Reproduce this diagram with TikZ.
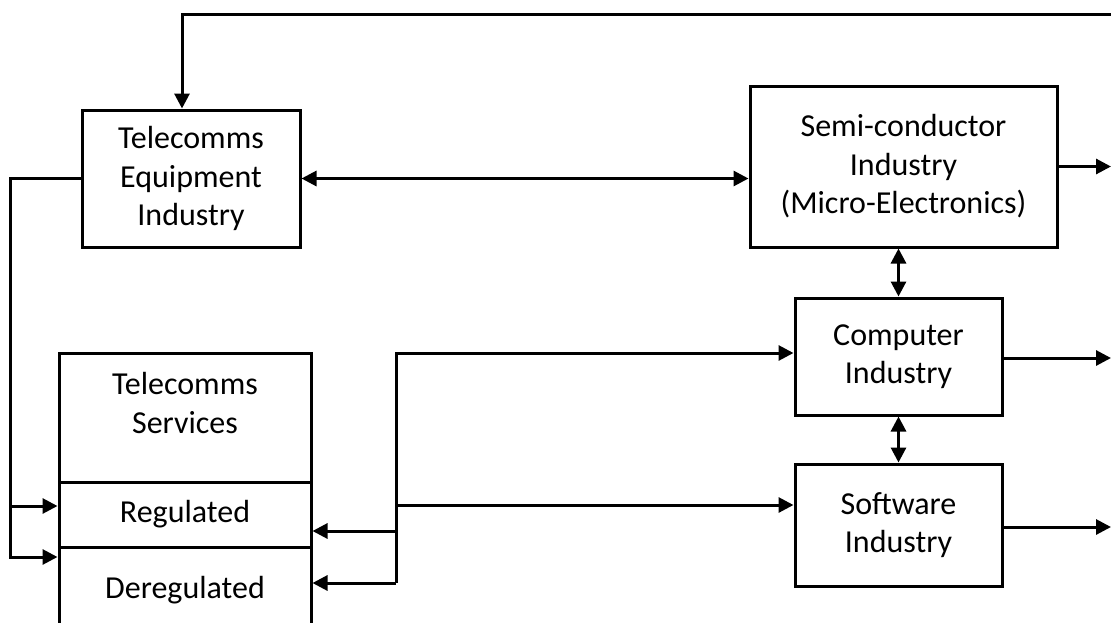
\documentclass[tikz,border=0pt]{standalone}
\usepackage{fontspec}
\setmainfont{Carlito}
\usetikzlibrary{arrows.meta}

\begin{document}
\begin{tikzpicture}[x=1pt,y=-1pt,line width=3pt,
    box/.style={draw,inner sep=0pt,align=center,font=\fontsize{32}{38.5}\selectfont},
    tip/.style={-{Triangle[length=15pt,width=15pt]}},
    both/.style={{Triangle[length=15pt,width=15pt]}-{Triangle[length=15pt,width=15pt]}}]
  \clip (0,0) rectangle (1111,622);
  % boxes
  \node[box,minimum width=218pt,minimum height=137pt] (te) at (191,178.5) {Telecomms\\Equipment\\Industry};
  \node[box,minimum width=307pt,minimum height=161pt] (sc) at (903.5,166.5) {Semi-conductor\\Industry\\(Micro-Electronics)};
  \node[box,minimum width=207pt,minimum height=117pt] (comp) at (898.5,356.5) {Computer\\Industry};
  \node[box,minimum width=207pt,minimum height=122pt] (soft) at (898.5,525) {Software\\Industry};
  \node[box,minimum width=252pt,minimum height=129pt] (svc) at (185,417.5) {};
  \node[box,draw=none] (svctext) at (185,403) {Telecomms\\Services};
  \node[box,minimum width=252pt,minimum height=65pt] (reg) at (185,514.5) {Regulated};
  \node[box,minimum width=252pt,minimum height=86pt] (dereg) at (185,590) {Deregulated};
  % free ends
  \coordinate (top) at (1111,14);
  \coordinate (scout) at (1111,166.5);
  \coordinate (compout) at (1111,358);
  \coordinate (softout) at (1111,527);
  \coordinate (l1) at (10,506);
  \coordinate (l2) at (10,557);
  \coordinate (b1) at (396,353);
  \coordinate (b2) at (396,505);
  \coordinate (b3) at (396,531);
  \coordinate (b4) at (396,583);
  % connectors
  \draw[tip] (top) -| ([xshift=-9pt]te.north);
  \draw[both] (te.east) -- (te.east -| sc.west);
  \draw[tip] (sc.east) -- (scout);
  \draw[tip] (comp.east |- compout) -- (compout);
  \draw[tip] (soft.east |- softout) -- (softout);
  \draw[both] (sc.south -| comp.north) -- (comp.north);
  \draw[both] (comp.south) -- (soft.north);
  \draw[tip] (te.west) -| (l2) -- (l2 -| dereg.west);
  \draw[tip] (l1) -- (l1 -| reg.west);
  \draw[tip] (b4) -- (b1) -- (b1 -| comp.west);
  \draw[tip] (b2) -- (b2 -| soft.west);
  \draw[tip] (b3) -- (b3 -| reg.east);
  \draw[tip] (b4) -- (b4 -| dereg.east);
\end{tikzpicture}
\end{document}
